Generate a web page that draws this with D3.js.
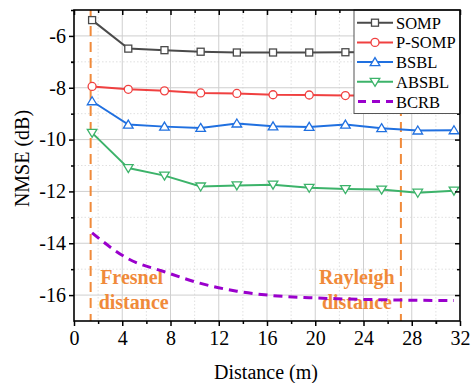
<!DOCTYPE html>
<html><head><meta charset="utf-8">
<script src="https://cdn.jsdelivr.net/npm/d3@7"></script>
<style>body{margin:0;background:#fff}svg{display:block}text{font-family:"Liberation Serif","Times New Roman",serif}</style>
</head><body><svg id="c" width="471" height="383"></svg>
<script>
const distances = [1.5, 4.5, 7.5, 10.5, 13.5, 16.5, 19.5, 22.5, 25.5, 28.5, 31.5];
const somp   = [-5.39, -6.49, -6.55, -6.61, -6.64, -6.64, -6.64, -6.63, -6.62, -6.61, -6.6];
const psomp  = [-7.95, -8.06, -8.12, -8.2, -8.22, -8.27, -8.28, -8.3, -8.3, -8.28, -8.25];
const bsbl   = [-8.52, -9.42, -9.5, -9.55, -9.38, -9.49, -9.51, -9.42, -9.56, -9.65, -9.64];
const absbl  = [-9.74, -11.1, -11.39, -11.81, -11.77, -11.74, -11.86, -11.91, -11.93, -12.05, -11.97];
const bcrb   = [-13.6, -14.6, -15.1, -15.55, -15.85, -16.02, -16.1, -16.15, -16.18, -16.2, -16.21];
const xTicks = [0, 4, 8, 12, 16, 20, 24, 28, 32];
const yTicks = [-6, -8, -10, -12, -14, -16];
const fresnelX = 1.38, rayleighX = 27.1;

const svg = d3.select("#c");
const m = {l:74, t:10, r:11, b:62};
const W = 471 - m.l - m.r, H = 383 - m.t - m.b;
const x = d3.scaleLinear().domain([0, 32]).range([m.l, m.l + W]);
const y = d3.scaleLinear().domain([-17, -5]).range([m.t + H, m.t]);

const xMinor = d3.range(2, 32, 4), yMinor = d3.range(-15, -5, 2);
const g = svg.append("g");
// grid
g.selectAll(".gxm").data(xMinor).join("line").attr("x1", d=>x(d)).attr("x2", d=>x(d)).attr("y1", m.t).attr("y2", m.t+H)
  .attr("stroke", "#d8d8d8").attr("stroke-width", 0.8).attr("stroke-dasharray", "1.5,2");
g.selectAll(".gym").data(yMinor).join("line").attr("y1", d=>y(d)).attr("y2", d=>y(d)).attr("x1", m.l).attr("x2", m.l+W)
  .attr("stroke", "#d8d8d8").attr("stroke-width", 0.8).attr("stroke-dasharray", "1.5,2");
g.selectAll(".gx").data(xTicks.slice(1,-1)).join("line").attr("x1", d=>x(d)).attr("x2", d=>x(d)).attr("y1", m.t).attr("y2", m.t+H)
  .attr("stroke", "#cfcfcf").attr("stroke-width", 1);
g.selectAll(".gy").data(yTicks).join("line").attr("y1", d=>y(d)).attr("y2", d=>y(d)).attr("x1", m.l).attr("x2", m.l+W)
  .attr("stroke", "#cfcfcf").attr("stroke-width", 1);

// vertical reference lines
const orange = "#f08a3a";
[fresnelX, rayleighX].forEach(v => {
  svg.append("line").attr("x1", x(v)).attr("x2", x(v)).attr("y1", m.t).attr("y2", m.t+H)
    .attr("stroke", orange).attr("stroke-width", 2).attr("stroke-dasharray", "10,6");
});

// annotations
const ann = svg.append("g").attr("fill", orange).attr("font-weight", "bold").attr("font-size", 20).attr("text-anchor", "middle");
ann.append("text").attr("x", x(fresnelX) + 41).attr("y", y(-15.58)).text("Fresnel");
ann.append("text").attr("x", x(fresnelX) + 43).attr("y", y(-16.53)).text("distance");
ann.append("text").attr("x", x(rayleighX) - 44).attr("y", y(-15.58)).text("Rayleigh");
ann.append("text").attr("x", x(rayleighX) - 44).attr("y", y(-16.53)).text("distance");

const series = [
  {name:"SOMP", vals:somp, color:"#4a4a4a", marker:"square"},
  {name:"P-SOMP", vals:psomp, color:"#f04040", marker:"circle"},
  {name:"BSBL", vals:bsbl, color:"#2070e0", marker:"up"},
  {name:"ABSBL", vals:absbl, color:"#3cb36a", marker:"down"},
];
const line = d3.line().x((d,i)=>x(distances[i])).y(d=>y(d));

function drawMarker(sel, type, color, cx, cy) {
  if (type === "square") sel.append("rect").attr("x", cx-3.5).attr("y", cy-3.5).attr("width", 7).attr("height", 7)
    .attr("fill", "#fff").attr("stroke", color).attr("stroke-width", 1.3);
  else if (type === "circle") sel.append("circle").attr("cx", cx).attr("cy", cy).attr("r", 4)
    .attr("fill", "#fff").attr("stroke", color).attr("stroke-width", 1.3);
  else if (type === "up") sel.append("path").attr("d", `M${cx},${cy-4.5}L${cx+4.8},${cy+3.5}L${cx-4.8},${cy+3.5}Z`)
    .attr("fill", "#fff").attr("stroke", color).attr("stroke-width", 1.3);
  else sel.append("path").attr("d", `M${cx},${cy+4.5}L${cx+4.8},${cy-3.5}L${cx-4.8},${cy-3.5}Z`)
    .attr("fill", "#fff").attr("stroke", color).attr("stroke-width", 1.3);
}

series.forEach(s => {
  const sg = svg.append("g");
  sg.append("path").datum(s.vals).attr("d", line).attr("fill", "none").attr("stroke", s.color).attr("stroke-width", 2);
  s.vals.forEach((v,i) => drawMarker(sg, s.marker, s.color, x(distances[i]), y(v)));
});

// BCRB
const purple = "#9a00cc";
svg.append("path").datum(bcrb).attr("d", d3.line().x((d,i)=>x(distances[i])).y(d=>y(d)).curve(d3.curveMonotoneX)).attr("fill", "none")
  .attr("stroke", purple).attr("stroke-width", 3).attr("stroke-dasharray", "9,6");

// axes
const ax = svg.append("g");
ax.append("g").attr("transform", `translate(0,${m.t+H})`)
  .call(d3.axisBottom(x).tickValues(xTicks).tickSize(5).tickPadding(5).tickFormat(d3.format("d")));
ax.append("g").attr("transform", `translate(0,${m.t+H})`)
  .call(d3.axisBottom(x).tickValues(xMinor.concat([30])).tickSize(3).tickFormat(""));
ax.append("g").attr("transform", `translate(${m.l},0)`)
  .call(d3.axisLeft(y).tickValues(yTicks).tickSize(5).tickPadding(3).tickFormat(d=>d3.format("d")(d).replace("\u2212","-")));
ax.append("g").attr("transform", `translate(${m.l},0)`)
  .call(d3.axisLeft(y).tickValues(yMinor.concat([-7,-5])).tickSize(3).tickFormat(""));
ax.append("g").attr("transform", `translate(0,${m.t})`)
  .call(d3.axisBottom(x).tickValues(xTicks).tickSize(5).tickFormat(""));
ax.append("g").attr("transform", `translate(0,${m.t})`)
  .call(d3.axisBottom(x).tickValues(xMinor.concat([30])).tickSize(3).tickFormat(""));
ax.append("g").attr("transform", `translate(${m.l+W},0)`)
  .call(d3.axisLeft(y).tickValues(yTicks).tickSize(5).tickFormat(""));
ax.append("g").attr("transform", `translate(${m.l+W},0)`)
  .call(d3.axisLeft(y).tickValues(yMinor).tickSize(3).tickFormat(""));
ax.selectAll(".domain").remove();
ax.selectAll(".tick line").attr("stroke", "#000").attr("stroke-width", 1.5);
ax.selectAll(".tick text").attr("font-size", 20).attr("fill", "#000").attr("font-family", "Liberation Serif");

svg.append("text").attr("x", m.l + W/2 - 1).attr("y", 379).attr("text-anchor", "middle").attr("font-size", 20).text("Distance (m)");
svg.append("text").attr("transform", `translate(29,${m.t+H/2 - 7}) rotate(-90)`).attr("text-anchor", "middle").attr("font-size", 20).text("NMSE (dB)");

// legend
const lg = svg.append("g");
const lx = 354, ly = m.t, lw = m.l + W - lx, lh = 103.5;
lg.append("rect").attr("x", lx).attr("y", ly).attr("width", lw).attr("height", lh).attr("fill", "#fff").attr("stroke", "#555").attr("stroke-width", 1);
const legItems = series.concat([{name:"BCRB", color:purple, marker:null}]);
legItems.forEach((s, i) => {
  const cy = 22.7 + i*19.7;
  if (s.marker) {
    lg.append("line").attr("x1", lx+3).attr("x2", lx+39).attr("y1", cy).attr("y2", cy).attr("stroke", s.color).attr("stroke-width", 2);
    drawMarker(lg, s.marker, s.color, lx+21, cy);
  } else {
    lg.append("line").attr("x1", lx+4).attr("x2", lx+39).attr("y1", cy).attr("y2", cy).attr("stroke", s.color).attr("stroke-width", 3).attr("stroke-dasharray", "8,6");
  }
  lg.append("text").attr("x", lx+42).attr("y", cy+6).attr("font-size", 16.5).text(s.name);
});
// frame on top
svg.append("rect").attr("x", m.l).attr("y", m.t).attr("width", W).attr("height", H).attr("fill", "none").attr("stroke", "#000").attr("stroke-width", 1.6);
</script></body></html>
